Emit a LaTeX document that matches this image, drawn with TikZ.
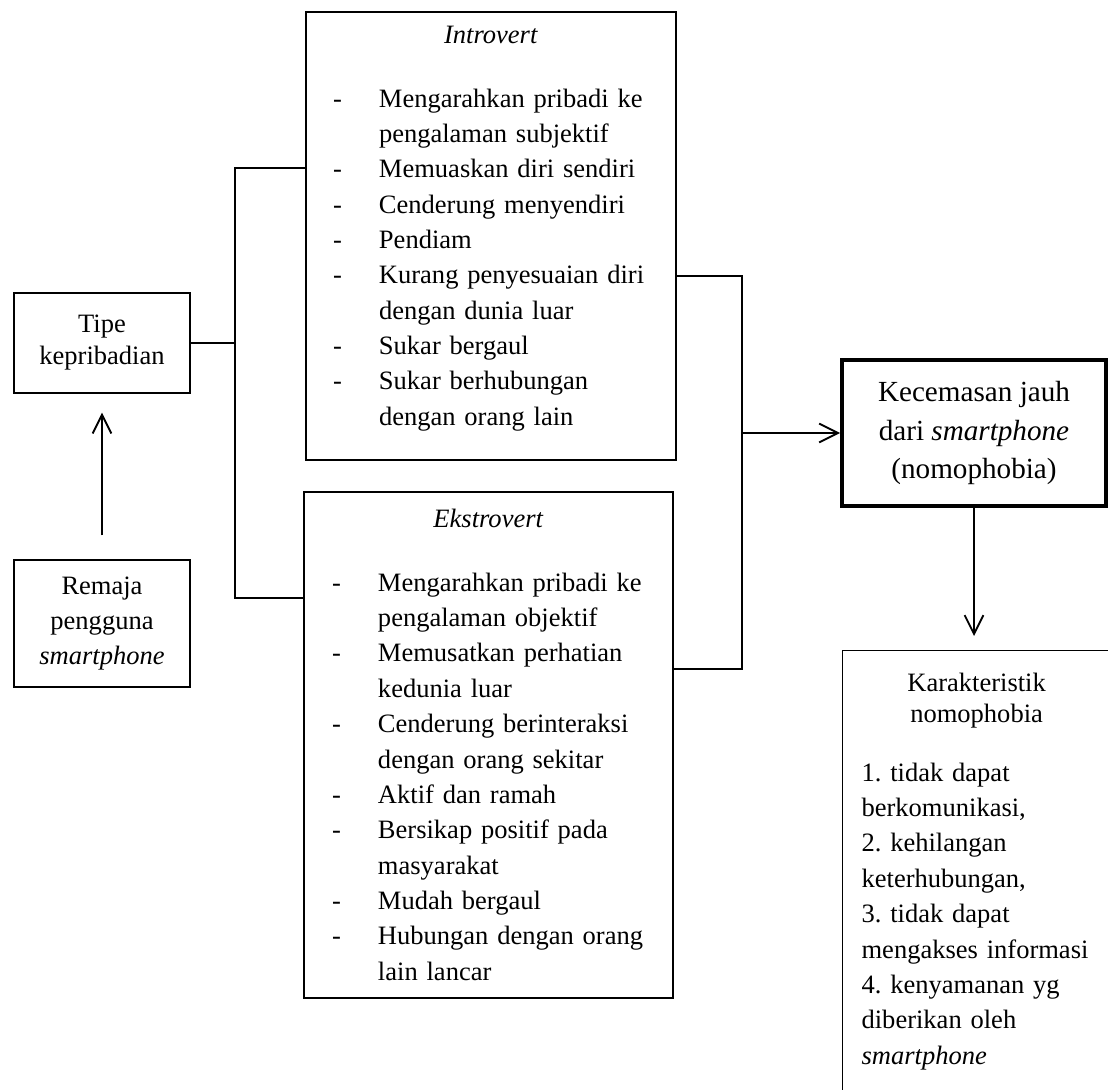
\documentclass[tikz,border=0pt]{standalone}
\usepackage{fontspec}
\setmainfont{Liberation Serif}
\usetikzlibrary{arrows.meta}
\setlength{\parindent}{0pt}
\frenchspacing
\newlength{\px}
\setlength{\px}{0.4525pt}
\newcommand{\butir}[1]{\makebox[46\px][l]{-}#1}
\newcommand{\lanjut}[1]{\hspace*{46\px}#1}

\begin{document}
\begin{tikzpicture}[x=\px, y=-\px, >={Straight Barb[length=8.5pt,width=8.5pt]},
  kotak/.style={draw, line width=0.55pt, inner sep=0pt, font=\fontsize{12}{16}\selectfont},
  garis/.style={line width=0.85pt}]
 \useasboundingbox (0,0) rectangle (1108,1090);
 \clip (0,0) rectangle (1108,1090);

 \node[kotak, minimum width=176\px, minimum height=100\px, align=center, font=\fontsize{12}{14.5}\selectfont] (tipe) at (102,343) {Tipe\\kepribadian};
 \node[kotak, minimum width=176\px, minimum height=127\px, align=center] (remaja) at (102,623.5) {Remaja\\pengguna\\\textit{smartphone}};

 \node[kotak, minimum height=448\px, inner xsep=27\px, text width=316\px, align=left] (introvert) at (491,236) {
  \makebox[\hsize]{\textit{Introvert}}\\[28\px]
  \butir{Mengarahkan pribadi ke}\\
  \lanjut{pengalaman subjektif}\\
  \butir{Memuaskan diri sendiri}\\
  \butir{Cenderung menyendiri}\\
  \butir{Pendiam}\\
  \butir{Kurang penyesuaian diri}\\
  \lanjut{dengan dunia luar}\\
  \butir{Sukar bergaul}\\
  \butir{Sukar berhubungan}\\
  \lanjut{dengan orang lain}\\[-15\px]
  \mbox{}};
 \node[kotak, minimum height=506\px, inner xsep=28\px, text width=313\px, align=left] (ekstrovert) at (488.5,745) {
  \makebox[\hsize]{\textit{Ekstrovert}}\\[28\px]
  \butir{Mengarahkan pribadi ke}\\
  \lanjut{pengalaman objektif}\\
  \butir{Memusatkan perhatian}\\
  \lanjut{kedunia luar}\\
  \butir{Cenderung berinteraksi}\\
  \lanjut{dengan orang sekitar}\\
  \butir{Aktif dan ramah}\\
  \butir{Bersikap positif pada}\\
  \lanjut{masyarakat}\\
  \butir{Mudah bergaul}\\
  \butir{Hubungan dengan orang}\\
  \lanjut{lain lancar}};

 \node[kotak, line width=1.8pt, minimum width=264\px, minimum height=146\px, align=center, font=\fontsize{13.2}{17.6}\selectfont] (kecemasan) at (974,433) {Kecemasan jauh\\dari \textit{smartphone}\\(nomophobia)};
 \node[kotak, anchor=north west, inner xsep=19\px, inner ysep=22\px, text width=230\px, align=left] (karakteristik) at (842,650) {
  \makebox[\hsize]{Karakteristik}\\[-3.5\px]
  \makebox[\hsize]{nomophobia}\\[23\px]
  1. tidak dapat\\
  berkomunikasi,\\
  2. kehilangan\\
  keterhubungan,\\
  3. tidak dapat\\
  mengakses informasi\\
  4. kenyamanan yg\\
  diberikan oleh\\
  \textit{smartphone}\\[100\px]
  \mbox{}};

 \coordinate (kiri-atas) at (235,168);
 \coordinate (kiri-bawah) at (235,598);
 \coordinate (kanan-atas) at (742,276);
 \coordinate (kanan-bawah) at (742,669);

 \draw[garis] (tipe.east) -- (tipe.east -| kiri-atas);
 \draw[garis] (kiri-atas -| introvert.west) -- (kiri-atas) -- (kiri-bawah) -- (kiri-bawah -| ekstrovert.west);
 \draw[garis] (kanan-atas -| introvert.east) -- (kanan-atas) -- (kanan-bawah) -- (kanan-bawah -| ekstrovert.east);

 \draw[garis, ->, shorten <=24\px, shorten >=19\px] (remaja) -- (tipe);
 \draw[garis, ->] (kecemasan.west -| kanan-atas) -- (kecemasan.west);
 \draw[garis, ->, shorten >=14\px] (kecemasan.south) -- (kecemasan.south |- karakteristik.north);
\end{tikzpicture}
\end{document}
